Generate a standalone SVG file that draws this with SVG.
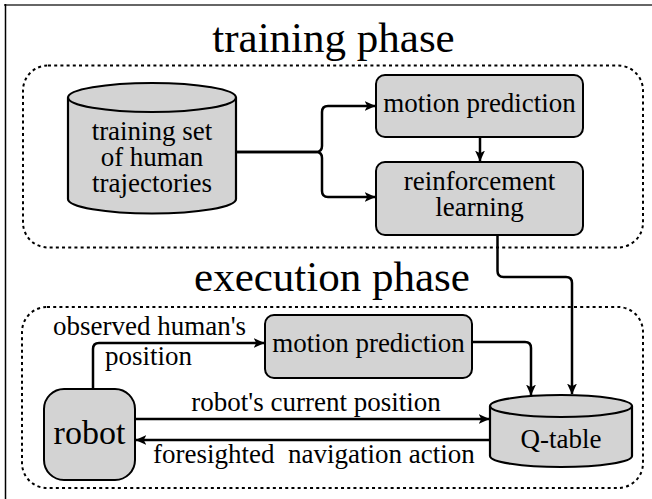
<svg xmlns="http://www.w3.org/2000/svg" width="652" height="499" viewBox="0 0 652 499" font-family="Liberation Serif, Tinos, Times New Roman, serif">
<style>
  .title { font-size: 43px; text-anchor: middle; }
  .lbl { font-size: 27px; }
  .mid { text-anchor: middle; }
  .box { fill: #d3d3d3; stroke: #000; stroke-width: 2; }
  .cyl { fill: #d3d3d3; stroke: #000; stroke-width: 2.2; }
  .cylf { fill: none; stroke: #000; stroke-width: 2.2; }
  .grp { fill: none; stroke: #000; stroke-width: 2; stroke-dasharray: 3 3.2; }
  .edge { fill: none; stroke: #000; stroke-width: 2.5; marker-end: url(#arr); }
</style>
<defs>
  <marker id="arr" viewBox="0 0 10 10" refX="9.5" refY="5" markerWidth="11" markerHeight="11" markerUnits="userSpaceOnUse" orient="auto">
    <path d="M0,0.5 L10,5 L0,9.5 L2.5,5 Z" fill="#000"/>
  </marker>
</defs>

<g id="frame">
  <line x1="4" y1="5" x2="652" y2="5" stroke="#666" stroke-width="2"/>
  <line x1="5.5" y1="4" x2="5.5" y2="499" stroke="#000" stroke-width="1.5"/>
</g>

<g id="training-phase">
  <text class="title" x="333.5" y="52">training phase</text>
  <rect class="grp" x="23" y="65.5" width="620" height="182" rx="25"/>
</g>

<g id="execution-phase">
  <text class="title" x="332" y="291">execution phase</text>
  <rect class="grp" x="22" y="307" width="621" height="181" rx="25"/>
</g>

<g id="connectors">
  <path class="edge" d="M236,152 H316 Q322,152 322,146 V112 Q322,106 328,106 H375"/>
  <path class="edge" d="M236,152 H316 Q322,152 322,158 V191 Q322,197 328,197 H375"/>
  <path class="edge" d="M480,137 V161"/>
  <path class="edge" d="M497.5,235 V271 Q497.5,277 503.5,277 H566 Q572,277 572,283 V394"/>
  <path class="edge" d="M93,389 V349 Q93,343 99,343 H264"/>
  <path class="edge" d="M472,342 H525 Q531,342 531,348 V395"/>
  <path class="edge" d="M135,419 H489"/>
  <path class="edge" d="M490,440 H136"/>
</g>

<g id="training-set">
  <path class="cyl" d="M68,97.5 V199 A84,14.5 0 0 0 236,199 V97.5 A84,14.5 0 0 0 68,97.5 Z"/>
  <path class="cylf" d="M68,97.5 A84,14.5 0 0 0 236,97.5"/>
  <text class="lbl mid" x="152" y="140">training set</text>
  <text class="lbl mid" x="152" y="166">of human</text>
  <text class="lbl mid" x="152" y="192">trajectories</text>
</g>

<g id="motion-prediction-train">
  <rect class="box" x="376" y="75" width="207" height="62" rx="9"/>
  <text class="lbl mid" x="479.5" y="112">motion prediction</text>
</g>

<g id="reinforcement-learning">
  <rect class="box" x="376" y="162" width="207" height="73" rx="9"/>
  <text class="lbl mid" x="479.5" y="190">reinforcement</text>
  <text class="lbl mid" x="479.5" y="216">learning</text>
</g>

<g id="motion-prediction-exec">
  <rect class="box" x="265" y="315" width="207" height="63" rx="9"/>
  <text class="lbl mid" x="368.5" y="352">motion prediction</text>
</g>

<g id="robot">
  <rect class="box" x="44" y="389" width="91" height="91" rx="20"/>
  <text class="mid" x="89.5" y="444" font-size="34">robot</text>
</g>

<g id="q-table">
  <path class="cyl" d="M490,406 V456 A71,11 0 0 0 632,456 V406 A71,11 0 0 0 490,406 Z"/>
  <path class="cylf" d="M490,406 A71,11 0 0 0 632,406"/>
  <text class="lbl mid" x="561" y="448">Q-table</text>
</g>

<g id="labels">
  <text class="lbl" x="53" y="335">observed human's</text>
  <text class="lbl" x="105" y="365">position</text>
  <text class="lbl mid" x="316" y="411">robot's current position</text>
  <text class="lbl" x="153" y="463" xml:space="preserve">foresighted  navigation action</text>
</g>
</svg>
